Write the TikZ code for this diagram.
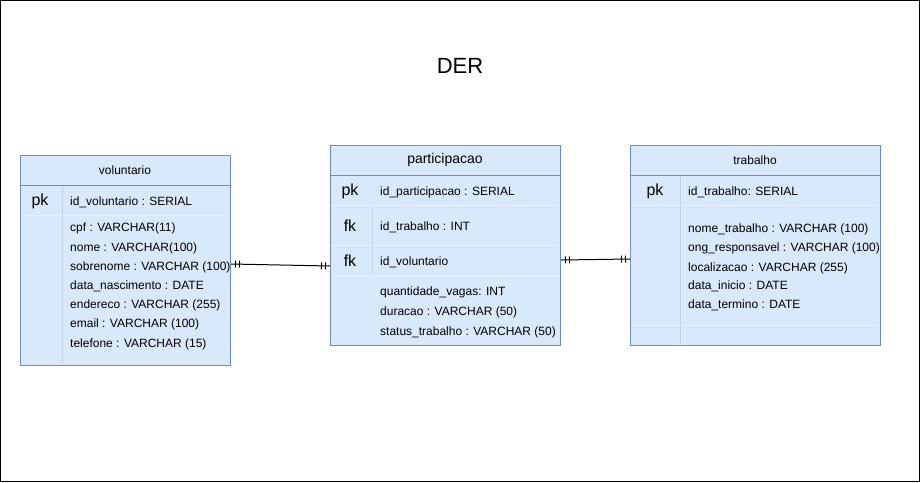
\documentclass[tikz,border=0pt]{standalone}
\usepackage{fontspec}
\setmainfont{Liberation Sans}
\usepackage{tikz}
\usetikzlibrary{positioning, decorations.markings}
\definecolor{tablefill}{HTML}{DAE8FC}
\definecolor{tableline}{HTML}{6C8EBF}
\definecolor{rowline}{HTML}{EAF1FC}
\definecolor{keyline}{HTML}{C2D3EC}

\begin{document}
\begin{tikzpicture}[
    x=1pt, y=-1pt,
    tablebox/.style={draw=tableline, fill=tablefill, line width=1pt, anchor=north west, inner sep=0pt},
    field/.style={font=\fontsize{12}{14}\selectfont, anchor=west, inner sep=0pt},
    keylabel/.style={font=\fontsize{16}{18}\selectfont, inner sep=0pt},
    header/.style={font=\fontsize{#1}{16}\selectfont, inner sep=0pt},
    mandone/.style={line width=1pt, postaction={decorate, decoration={markings,
        mark=at position 4.5pt with {\draw[line width=1pt] (0,-3.5pt) -- (0,3.5pt);},
        mark=at position 8.5pt with {\draw[line width=1pt] (0,-3.5pt) -- (0,3.5pt);},
        mark=at position -8.5pt with {\draw[line width=1pt] (0,-3.5pt) -- (0,3.5pt);},
        mark=at position -4.5pt with {\draw[line width=1pt] (0,-3.5pt) -- (0,3.5pt);}}}}
]
    \useasboundingbox (0,0) rectangle (920,482);
    \draw[line width=1pt] (0.5,0.5) rectangle (919.5,481.5);

    % Title
    \node[font=\fontsize{22}{26}\selectfont] (title) at (460,66) {DER};

    % voluntario
    \node[tablebox, minimum width=210pt, minimum height=210pt] (voluntario) at (20,155) {};
    \draw[tableline, line width=1pt] (20,185) -- (230,185);
    \draw[rowline, line width=1pt] (21,215) -- (229,215);
    \draw[keyline, line width=1pt] (62,186) -- (62,364);
    \node[header=12] (volhead) at (125,170) {voluntario};
    \node[keylabel] at (40,201) {pk};
    \node[field] (idvol) at (70,202) {id\_voluntario : SERIAL};
    \node[field] (cpf) at (70,228) {cpf : VARCHAR(11)};
    \node[field] (nome) at (70,248) {nome : VARCHAR(100)};
    \node[field] (sobrenome) at (70,267) {sobrenome : VARCHAR (100)};
    \node[field] (nascimento) at (70,286) {data\_nascimento : DATE};
    \node[field] (endereco) at (70,305) {endereco : VARCHAR (255)};
    \node[field] (email) at (70,324) {email : VARCHAR (100)};
    \node[field] (telefone) at (70,344) {telefone : VARCHAR (15)};

    % participacao
    \node[tablebox, minimum width=230pt, minimum height=200pt] (participacao) at (330,145) {};
    \draw[tableline, line width=1pt] (330,175) -- (560,175);
    \draw[rowline, line width=1pt] (331,205) -- (559,205);
    \draw[rowline, line width=1pt] (331,245) -- (559,245);
    \draw[rowline, line width=1pt] (331,275) -- (559,275);
    \draw[keyline, line width=1pt] (372,206) -- (372,274);
    \node[header=14] (parthead) at (445,160) {participacao};
    \node[keylabel] at (350,191) {pk};
    \node[keylabel] at (350,226) {fk};
    \node[keylabel] at (350,261) {fk};
    \node[field] (idpart) at (380,192) {id\_participacao : SERIAL};
    \node[field] (fktrab) at (380,227) {id\_trabalho : INT};
    \node[field] (fkvol) at (380,262) {id\_voluntario};
    \node[field] (vagas) at (380,292) {quantidade\_vagas: INT};
    \node[field] (duracao) at (380,312) {duracao : VARCHAR (50)};
    \node[field] (status) at (380,332) {status\_trabalho : VARCHAR (50)};

    % trabalho
    \node[tablebox, minimum width=250pt, minimum height=200pt] (trabalho) at (630,145) {};
    \draw[tableline, line width=1pt] (630,175) -- (880,175);
    \draw[rowline, line width=1pt] (631,205) -- (879,205);
    \draw[rowline, line width=1pt] (631,325) -- (879,325);
    \draw[keyline, line width=1pt] (680,176) -- (680,344);
    \node[header=12] (trabhead) at (755,160) {trabalho};
    \node[keylabel] at (655,191) {pk};
    \node[field] (idtrab) at (688,192) {id\_trabalho: SERIAL};
    \node[field] (nometrab) at (688,229) {nome\_trabalho : VARCHAR (100)};
    \node[field] (ong) at (688,248) {ong\_responsavel : VARCHAR (100)};
    \node[field] (local) at (688,268) {localizacao : VARCHAR (255)};
    \node[field] (inicio) at (688,286) {data\_inicio : DATE};
    \node[field] (termino) at (688,305) {data\_termino : DATE};

    % Relationships
    \draw[mandone] ([yshift=3pt]voluntario.east |- sobrenome.west) -- ([yshift=-4pt]participacao.west |- fkvol.west);
    \draw[mandone] ([yshift=2pt]participacao.east |- fkvol.west) -- ([yshift=3pt]trabalho.west |- fkvol.west);

\end{tikzpicture}
\end{document}
